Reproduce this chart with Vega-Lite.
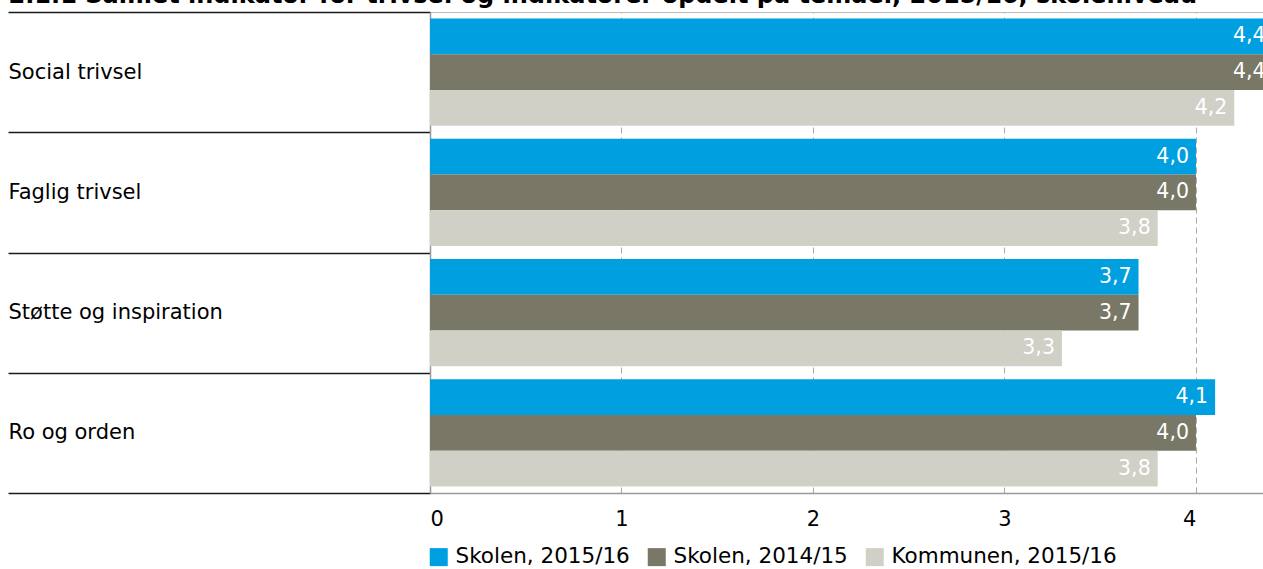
{
  "$schema": "https://vega.github.io/schema/vega-lite/v6.json",
  "autosize": "none",
  "width": 833,
  "height": 481,
  "padding": {"left": 430, "top": 12, "right": 0, "bottom": 76},
  "background": "white",
  "data": {
    "values": [
      {"tema": "Social trivsel", "serie": "Skolen, 2015/16", "value": 4.4},
      {"tema": "Social trivsel", "serie": "Skolen, 2014/15", "value": 4.4},
      {"tema": "Social trivsel", "serie": "Kommunen, 2015/16", "value": 4.2},
      {"tema": "Faglig trivsel", "serie": "Skolen, 2015/16", "value": 4.0},
      {"tema": "Faglig trivsel", "serie": "Skolen, 2014/15", "value": 4.0},
      {"tema": "Faglig trivsel", "serie": "Kommunen, 2015/16", "value": 3.8},
      {"tema": "Støtte og inspiration", "serie": "Skolen, 2015/16", "value": 3.7},
      {"tema": "Støtte og inspiration", "serie": "Skolen, 2014/15", "value": 3.7},
      {"tema": "Støtte og inspiration", "serie": "Kommunen, 2015/16", "value": 3.3},
      {"tema": "Ro og orden", "serie": "Skolen, 2015/16", "value": 4.1},
      {"tema": "Ro og orden", "serie": "Skolen, 2014/15", "value": 4.0},
      {"tema": "Ro og orden", "serie": "Kommunen, 2015/16", "value": 3.8}
    ]
  },
  "encoding": {
    "y": {
      "field": "tema",
      "type": "nominal",
      "sort": ["Social trivsel", "Faglig trivsel", "Støtte og inspiration", "Ro og orden"],
      "scale": {"paddingInner": 0, "paddingOuter": 0},
      "axis": {
        "title": "2.1.1 Samlet indikator for trivsel og indikatorer opdelt på temaer, 2015/16, skoleniveau",
        "titleAngle": 0,
        "titleX": -422,
        "titleY": -10,
        "titleAlign": "left",
        "titleAnchor": null,
        "titleBaseline": "alphabetic",
        "titleFont": "DejaVu Sans",
        "titleFontSize": 24,
        "titleFontWeight": "bold",
        "titleColor": "#000000",
        "titleLimit": 1400,
        "grid": false,
        "ticks": true,
        "tickBand": "extent",
        "tickSize": 422,
        "tickColor": "#1a1a1a",
        "tickWidth": 1.5,
        "labelAlign": "left",
        "labelPadding": 0,
        "labelBaseline": "middle",
        "labelFont": "DejaVu Sans",
        "labelFontSize": 21,
        "labelColor": "#000000",
        "labelLimit": 400,
        "domain": true,
        "domainColor": "#999999",
        "domainWidth": 1.5
      }
    },
    "yOffset": {
      "field": "serie",
      "type": "nominal",
      "sort": ["Skolen, 2015/16", "Skolen, 2014/15", "Kommunen, 2015/16"],
      "scale": {"paddingInner": 0, "paddingOuter": 0.185}
    },
    "x": {
      "field": "value",
      "type": "quantitative",
      "scale": {"domain": [0, 4.35], "nice": false, "zero": true},
      "axis": {
        "title": null,
        "values": [0, 1, 2, 3, 4],
        "format": "d",
        "grid": true,
        "gridColor": "#aaaaaa",
        "gridDash": [6, 4],
        "gridWidth": 1,
        "ticks": false,
        "tickSize": 0,
        "labelPadding": 26,
        "labelBaseline": "middle",
        "labelAlign": {"expr": "datum.value == 0 ? 'left' : (datum.value == 4 ? 'right' : 'center')"},
        "labelFont": "DejaVu Sans",
        "labelFontSize": 21,
        "labelColor": "#000000",
        "domain": true,
        "domainColor": "#999999",
        "domainWidth": 1.5
      }
    }
  },
  "layer": [
    {
      "mark": {"type": "bar", "clip": true},
      "encoding": {
        "color": {
          "field": "serie",
          "type": "nominal",
          "scale": {
            "domain": ["Skolen, 2015/16", "Skolen, 2014/15", "Kommunen, 2015/16"],
            "range": ["#009fdf", "#797765", "#d0d0c7"]
          },
          "legend": {
            "title": null,
            "orient": "none",
            "direction": "horizontal",
            "legendX": -2,
            "legendY": 534,
            "symbolType": "square",
            "symbolSize": 324,
            "symbolStrokeWidth": 0,
            "symbolOpacity": 1,
            "labelFont": "DejaVu Sans",
            "labelFontSize": 21.5,
            "labelColor": "#000000",
            "labelOffset": 6,
            "columnPadding": 16,
            "labelLimit": 400
          }
        }
      }
    },
    {
      "mark": {
        "type": "text",
        "clip": true,
        "align": "right",
        "baseline": "middle",
        "dx": -7,
        "color": "#ffffff",
        "font": "DejaVu Sans",
        "fontSize": 20.5
      },
      "encoding": {
        "text": {"field": "value", "type": "quantitative", "format": ".1f"}
      }
    }
  ],
  "config": {
    "locale": {
      "number": {"decimal": ",", "thousands": ".", "grouping": [3], "currency": ["", " kr."]}
    },
    "view": {"stroke": "#bbbbbb", "strokeWidth": 1},
    "font": "DejaVu Sans"
  }
}
